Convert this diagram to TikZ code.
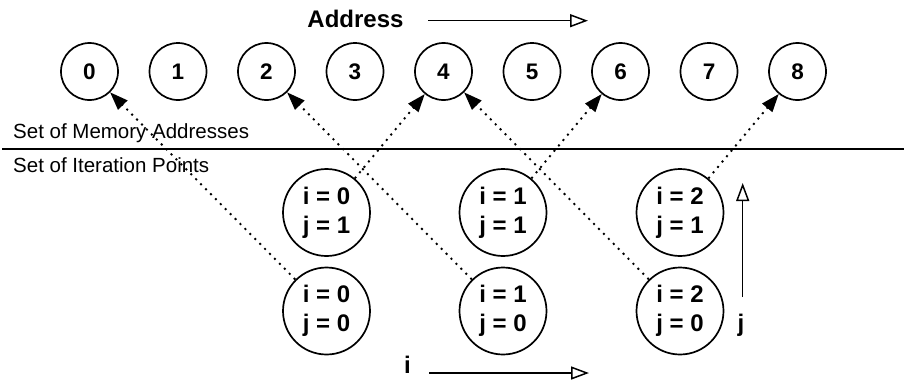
\documentclass[tikz,border=0pt]{standalone}
\usepackage{fontspec}
\setmainfont{Liberation Sans}
\usetikzlibrary{arrows.meta}
\begin{document}
\begin{tikzpicture}[x=1pt,y=-1pt,
  addr/.style={circle,draw,line width=1.7pt,minimum size=57pt,inner sep=0pt,
    font=\fontsize{22.5}{26}\selectfont\bfseries},
  iter/.style={circle,draw,line width=1.7pt,minimum size=87pt,inner sep=0pt,
    align=center,font=\fontsize{24}{29}\selectfont\bfseries},
  maps/.style={line width=1.9pt,dash pattern=on 2pt off 5pt,
    -{Triangle[length=18pt,width=13pt]}},
  axis/.style={line width=1.5pt,-{Triangle[open,length=18pt,width=13pt,line width=1.5pt]}},
  lbl/.style={font=\fontsize{20.5}{24}\selectfont,anchor=base west,inner sep=0pt},
  axlbl/.style={font=\fontsize{24}{28}\selectfont\bfseries,inner sep=0pt}
]
\useasboundingbox (0,0) rectangle (904,381);

% memory addresses
\foreach \k in {0,...,8}
  \node[addr] (a\k) at ({89.5+88.5*\k},71.5) {\k};

% address axis
\node[axlbl,anchor=base] (addrlbl) at (355.5,27.3) {Address};
\coordinate (addrs) at (428,20.7);
\coordinate (addre) at (588,20.7);
\draw[axis] (addrs) -- (addre);

% separator
\coordinate (sepl) at (2,149);
\coordinate (sepr) at (904,149);
\draw[line width=1.5pt] (sepl) -- (sepr);
\node[lbl] (memlbl) at (13,138) {Set of Memory Addresses};
\node[lbl] (itlbl) at (13,172) {Set of Iteration Points};

% iteration points
\foreach \i/\x in {0/326.5,1/503,2/680}{
  \node[iter] (p\i0) at (\x,311) {i = \i\\j = 0};
  \node[iter] (p\i1) at (\x,212.5) {i = \i\\j = 1};
}

% index-to-address mapping
\draw[maps] (p00) -- (a0);
\draw[maps] (p10) -- (a2);
\draw[maps] (p20) -- (a4);
\draw[maps] (p01) -- (a4);
\draw[maps] (p11) -- (a6);
\draw[maps] (p21) -- (a8);

% iteration axes
\node[axlbl,anchor=base] (ilbl) at (407.5,373) {i};
\coordinate (is) at (429,373);
\coordinate (ie) at (589,373);
\draw[axis] (is) -- (ie);

\node[axlbl,anchor=base] (jlbl) at (741,331) {j};
\coordinate (js) at (742.7,297);
\coordinate (je) at (742.7,183);
\draw[axis] (js) -- (je);
\end{tikzpicture}
\end{document}
